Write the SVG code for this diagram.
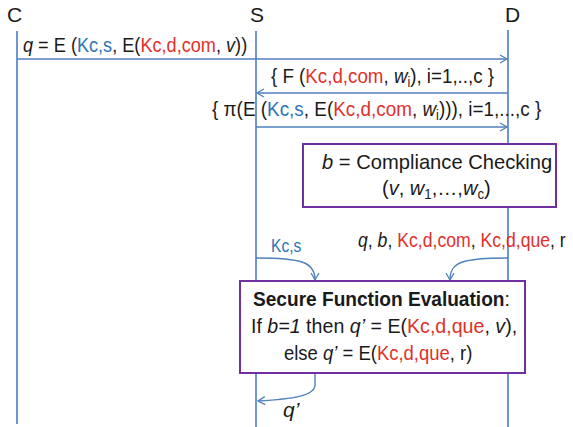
<svg xmlns="http://www.w3.org/2000/svg" width="573" height="427" viewBox="0 0 573 427">
<defs>
<marker id="ah" markerWidth="10" markerHeight="10" refX="8" refY="5" orient="auto" markerUnits="userSpaceOnUse">
<polyline points="1,1 8,5 1,9" fill="none" stroke="#4f81bd" stroke-width="1.3"/>
</marker>
<style>
text{font-family:"Liberation Sans",Arial,sans-serif;font-size:21px;fill:#1a1a1a}
.b{fill:#2e74b5}
.r{fill:#e0302a}
.life{stroke:#6f97cf;stroke-width:2}
.msg{stroke:#4f81bd;stroke-width:1.4;fill:none}
.box{fill:#fff;stroke:#7030a0;stroke-width:2}
.hd{font-size:21px}
.sub{font-size:14px}
</style>
</defs>
<g id="lifelines">
<line class="life" x1="17" y1="31" x2="17" y2="424"/>
<line class="life" x1="256" y1="31" x2="256" y2="427"/>
<line class="life" x1="508" y1="30" x2="508" y2="427"/>
</g>
<g id="C"><text class="hd" x="7" y="22">C</text></g>
<g id="S"><text class="hd" x="250" y="22">S</text></g>
<g id="D"><text class="hd" x="505" y="22">D</text></g>
<g id="connectors">
<line class="msg" x1="17" y1="59" x2="507" y2="59" marker-end="url(#ah)"/>
<line class="msg" x1="508" y1="93" x2="257" y2="93" marker-end="url(#ah)"/>
<line class="msg" x1="256" y1="127" x2="507" y2="127" marker-end="url(#ah)"/>
<path class="msg" d="M256,258 C302,258 315,262 315,280" marker-end="url(#ah)"/>
<path class="msg" d="M508,258 C462,258 450,262 450,280" marker-end="url(#ah)"/>
<path class="msg" d="M315,373 L315,385 C315,396 292,399 258,401" marker-end="url(#ah)"/>
</g>
<g id="labels">
<text transform="translate(23,52) scale(0.864,1)"><tspan font-style="italic">q</tspan> = E (<tspan class="b">Kc,s</tspan>, E(<tspan class="r">Kc,d,com</tspan>, <tspan font-style="italic">v</tspan>))</text>
<text transform="translate(271,83) scale(0.893,1)">{ F (<tspan class="r">Kc,d,com</tspan>, <tspan font-style="italic">w</tspan><tspan class="sub" dy="4">i</tspan><tspan dy="-4">), i=1,..,c }</tspan></text>
<text transform="translate(212,116) scale(0.9,1)">{ π(E (<tspan class="b">Kc,s</tspan>, E(<tspan class="r">Kc,d,com</tspan>, <tspan font-style="italic">w</tspan><tspan class="sub" dy="4">i</tspan><tspan dy="-4">))), i=1,...,c }</tspan></text>
<text class="b" transform="translate(271,252) scale(0.82,1)" style="font-size:19px">Kc,s</text>
<text transform="translate(358,247) scale(0.84,1)"><tspan font-style="italic">q</tspan>, <tspan font-style="italic">b</tspan>, <tspan class="r">Kc,d,com</tspan>, <tspan class="r">Kc,d,que</tspan>, r</text>
<text x="283" y="417" font-style="italic">q’</text>
</g>
<g id="compliance">
<rect class="box" x="303" y="144" width="253" height="63"/>
<text transform="translate(322,169) scale(0.96,1)"><tspan font-style="italic">b</tspan> = Compliance Checking</text>
<text transform="translate(382,195) scale(0.955,1)">(<tspan font-style="italic">v</tspan>, <tspan font-style="italic">w</tspan><tspan class="sub" dy="4">1</tspan><tspan dy="-4">,…,</tspan><tspan font-style="italic">w</tspan><tspan class="sub" dy="4">c</tspan><tspan dy="-4">)</tspan></text>
</g>
<g id="sfe">
<rect class="box" x="240" y="281" width="285" height="92"/>
<text font-weight="bold" transform="translate(253,306) scale(0.91,1)">Secure Function Evaluation<tspan font-weight="normal">:</tspan></text>
<text transform="translate(251,333) scale(0.935,1)">If <tspan font-style="italic">b=1</tspan> then <tspan font-style="italic">q’</tspan> = E(<tspan class="r">Kc,d,que</tspan>, <tspan font-style="italic">v</tspan>),</text>
<text transform="translate(284,360) scale(0.88,1)">else <tspan font-style="italic">q’</tspan> = E(<tspan class="r">Kc,d,que</tspan>, r)</text>
</g>
</svg>
